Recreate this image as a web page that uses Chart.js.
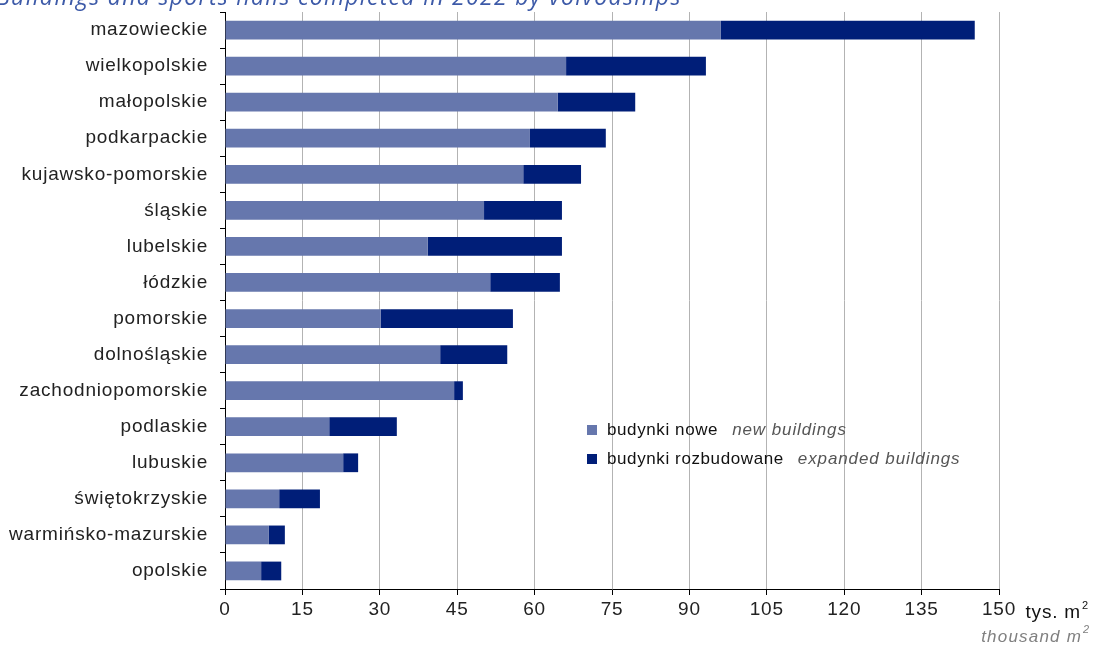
<!DOCTYPE html>
<html>
<head>
<meta charset="utf-8">
<script src="https://cdn.jsdelivr.net/npm/chart.js@4/dist/chart.umd.min.js"></script>
<style>
  html, body { margin: 0; padding: 0; background: #fff; }
  #wrap { position: relative; width: 1093px; height: 645px; }
</style>
</head>
<body>
<div id="wrap"><canvas id="c" width="1093" height="645"></canvas></div>
<script>
const categories = ["mazowieckie","wielkopolskie","małopolskie","podkarpackie","kujawsko-pomorskie","śląskie","lubelskie","łódzkie","pomorskie","dolnośląskie","zachodniopomorskie","podlaskie","lubuskie","świętokrzyskie","warmińsko-mazurskie","opolskie"];
const newBuildings = [96.1, 66.1, 64.5, 59.1, 57.8, 50.2, 39.3, 51.4, 30.2, 41.7, 44.4, 20.2, 22.9, 10.5, 8.5, 7.0];
const expandedBuildings = [49.2, 27.1, 15.0, 14.7, 11.2, 15.1, 26.0, 13.5, 25.6, 13.0, 1.7, 13.1, 2.9, 7.9, 3.1, 3.9];
const xTicks = [0, 15, 30, 45, 60, 75, 90, 105, 120, 135, 150];
const seriesNames = [["budynki nowe", "new buildings"], ["budynki rozbudowane", "expanded buildings"]];
const titleText = "Buildings and sports halls completed in 2022 by voivodships";
const unitText = ["tys. m", "thousand m"];

const COL_NEW = "#6677ad";
const COL_EXP = "#001e78";
const FONT = "'Liberation Sans', Arial, sans-serif";
const SPACING = "0.8px";

const canvas = document.getElementById("c");

const overlay = {
  id: "overlay",
  beforeLayout(chart) { chart.ctx.letterSpacing = SPACING; },
  beforeUpdate(chart) { chart.ctx.letterSpacing = SPACING; },
  beforeDraw(chart) { chart.ctx.letterSpacing = SPACING; },
  afterDraw(chart) {
    const ctx = chart.ctx;
    ctx.save();
    // title (cut off at top)
    ctx.letterSpacing = "1.3px";
    ctx.font = "italic 23px 'Open Sans', sans-serif";
    ctx.fillStyle = "#3d5aa8";
    ctx.textBaseline = "alphabetic";
    ctx.textAlign = "left";
    ctx.fillText(titleText, -4, 5);

    // legend
    const lx = 587, ly = [430, 459];
    const colors = [COL_NEW, COL_EXP];
    for (let i = 0; i < 2; i++) {
      ctx.fillStyle = colors[i];
      ctx.fillRect(lx, ly[i] - 5, 10, 10);
      ctx.letterSpacing = "0.6px";
      ctx.font = "17px " + FONT;
      ctx.fillStyle = "#111";
      ctx.textBaseline = "middle";
      ctx.fillText(seriesNames[i][0], lx + 20, ly[i]);
      const w = ctx.measureText(seriesNames[i][0]).width;
      ctx.letterSpacing = "0.9px";
      ctx.font = "italic 17px " + FONT;
      ctx.fillStyle = "#555";
      ctx.fillText(seriesNames[i][1], lx + 20 + w + 14, ly[i]);
    }

    // unit
    ctx.letterSpacing = "1.2px";
    ctx.textBaseline = "alphabetic";
    ctx.textAlign = "right";
    ctx.font = "italic 17px " + FONT;
    ctx.fillStyle = "#808080";
    ctx.fillText(unitText[1], 1082, 642);
    ctx.font = "italic 11px " + FONT;
    ctx.textAlign = "left";
    ctx.fillText("2", 1083, 633);
    ctx.letterSpacing = "0.8px";
    ctx.textAlign = "right";
    ctx.font = "19px " + FONT;
    ctx.fillStyle = "#111";
    ctx.fillText(unitText[0], 1081, 618);
    ctx.font = "11px " + FONT;
    ctx.textAlign = "left";
    ctx.fillText("2", 1082, 609);
    ctx.restore();
  }
};

new Chart(canvas, {
  type: "bar",
  data: {
    labels: categories,
    datasets: [
      { label: seriesNames[0].join(" "), data: newBuildings, backgroundColor: COL_NEW, borderWidth: 0 },
      { label: seriesNames[1].join(" "), data: expandedBuildings, backgroundColor: COL_EXP, borderWidth: 0 }
    ]
  },
  options: {
    indexAxis: "y",
    responsive: false,
    animation: false,
    devicePixelRatio: 1,
    layout: { padding: { top: 12, right: 94, left: 0, bottom: 0 } },
    datasets: { bar: { barPercentage: 0.52, categoryPercentage: 1 } },
    plugins: { legend: { display: false }, tooltip: { enabled: false }, title: { display: false } },
    scales: {
      x: {
        stacked: true,
        min: 0, max: 150,
        afterBuildTicks(scale) { scale.ticks = xTicks.map(v => ({ value: v })); },
        afterFit(scale) { scale.height = 56; scale.paddingLeft = 0; scale.paddingRight = 0; },
        grid: { color: "#b3b3b3", lineWidth: 1, tickColor: "#000", tickLength: 6, drawOnChartArea: true },
        border: { color: "#000", width: 1 },
        ticks: { color: "#222", font: { family: FONT, size: 19 }, padding: 3, autoSkip: false, maxRotation: 0 }
      },
      y: {
        stacked: true,
        afterFit(scale) { scale.width = 225; scale.paddingTop = 0; scale.paddingBottom = 0; },
        grid: { display: true, drawOnChartArea: false, offset: true, color: "#000", tickColor: "#000", tickLength: 5 },
        border: { color: "#000", width: 1 },
        ticks: { color: "#222", font: { family: FONT, size: 19 }, padding: 12, autoSkip: false }
      }
    }
  },
  plugins: [overlay]
});
</script>
</body>
</html>
